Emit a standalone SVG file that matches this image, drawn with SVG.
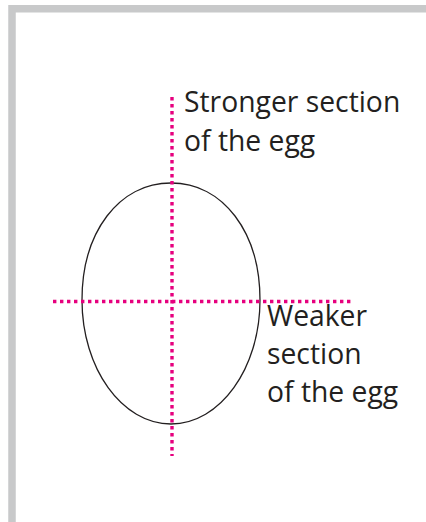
<svg xmlns="http://www.w3.org/2000/svg" width="426" height="522" viewBox="0 0 426 522">
<style>
.lbl{font-family:"Open Sans","Liberation Sans",sans-serif;font-size:28.3px;fill:#231f20}
.dot{stroke:#e6007e;stroke-width:3.4;stroke-dasharray:3.4 3.6;fill:none}
</style>
<rect width="426" height="522" fill="#fff"/>
<path d="M12,522 V8.7 H426" fill="none" stroke="#c8c9ca" stroke-width="7.5"/>
<g id="egg">
<path d="M82,300 C82,232 119,183 171,183 C223,183 260,232 260,300 C260,368.5 220,424 171,424 C122,424 82,368.5 82,300 Z" fill="none" stroke="#231f20" stroke-width="1.3"/>
</g>
<g id="connectors">
<line class="dot" x1="172" y1="97" x2="172" y2="456"/>
<line class="dot" x1="53" y1="301.5" x2="354" y2="301.5"/>
</g>
<g id="stronger">
<text class="lbl" x="184" y="112">Stronger section</text>
<text class="lbl" x="184" y="151">of the egg</text>
</g>
<g id="weaker">
<text class="lbl" x="267" y="326">Weaker</text>
<text class="lbl" x="267" y="364">section</text>
<text class="lbl" x="267" y="402">of the egg</text>
</g>
</svg>
